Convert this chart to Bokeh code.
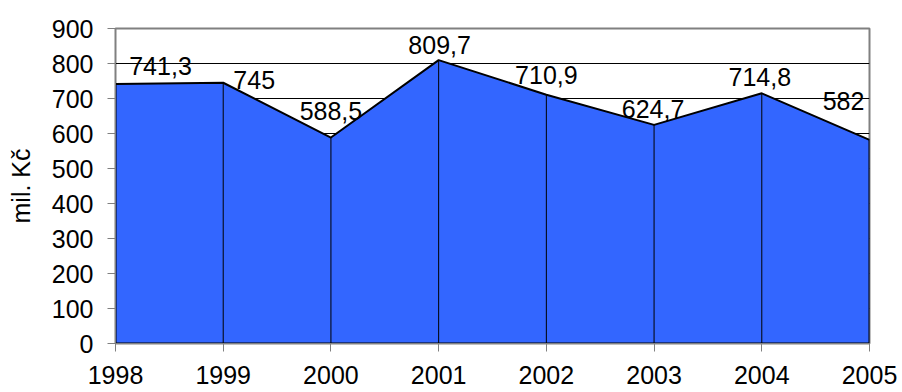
from bokeh.plotting import figure
from bokeh.models import ColumnDataSource, FixedTicker, Range1d
from bokeh.embed import file_html
from bokeh.resources import INLINE
from bokeh.core.properties import value

years = [1998, 1999, 2000, 2001, 2002, 2003, 2004, 2005]
values = [741.3, 745, 588.5, 809.7, 710.9, 624.7, 714.8, 582]
labels = ["741,3", "745", "588,5", "809,7", "710,9", "624,7", "714,8", "582"]
y_ticks = [0, 100, 200, 300, 400, 500, 600, 700, 800, 900]

# label placement offsets (screen pixels)
label_dx = [45, 31, 0, 1, 0, -1, -2, -26]
label_dy = [-18, -3, -27, -15, -20, -16, -16, -39]

FONT = "Liberation Sans"

p = figure(width=902, height=392, output_backend="svg", toolbar_location=None,
           x_range=Range1d(years[0], years[-1]), y_range=Range1d(0, 900),
           min_border_left=115, min_border_right=33, min_border_top=28, min_border_bottom=49)
p.background_fill_color = "white"
p.border_fill_color = "white"
p.outline_line_color = "#808080"
p.outline_line_width = 2

p.xgrid.grid_line_color = None
p.ygrid.grid_line_color = "black"
p.ygrid.grid_line_width = 1
p.ygrid.ticker = FixedTicker(ticks=y_ticks)

# area
xs = years + [years[-1], years[0]]
ys = values + [0, 0]
p.patch(xs, ys, fill_color="#3366FF", line_color="black", line_width=2)
p.segment(x0=years[1:-1], y0=[0] * (len(years) - 2), x1=years[1:-1], y1=values[1:-1],
          line_color="black", line_width=1)

src = ColumnDataSource(dict(x=years, y=values, t=labels, dx=label_dx, dy=label_dy))
p.text(x="x", y="y", text="t", x_offset="dx", y_offset="dy", source=src,
       text_font=value(FONT), text_font_size="25px", text_align="center",
       text_baseline="middle", text_color="black")

for ax in (p.xaxis[0], p.yaxis[0]):
    ax.axis_line_color = "#808080"
    ax.axis_line_width = 1
    ax.major_tick_line_color = "#808080"
    ax.major_tick_in = 0
    ax.major_tick_out = 8
    ax.minor_tick_line_color = None
    ax.major_label_text_font = FONT
    ax.major_label_text_font_size = "25px"
    ax.major_label_text_color = "black"

p.xaxis.ticker = FixedTicker(ticks=years)
p.xaxis.major_label_standoff = 14

p.yaxis.ticker = FixedTicker(ticks=y_ticks)
p.yaxis.major_label_standoff = 14
p.yaxis.axis_label = "mil. Kč"
p.yaxis.axis_label_text_font = FONT
p.yaxis.axis_label_text_font_size = "25px"
p.yaxis.axis_label_text_font_style = "normal"
p.yaxis.axis_label_text_color = "black"
p.yaxis.axis_label_standoff = 14

open("out.html", "w").write(file_html(p, INLINE))
